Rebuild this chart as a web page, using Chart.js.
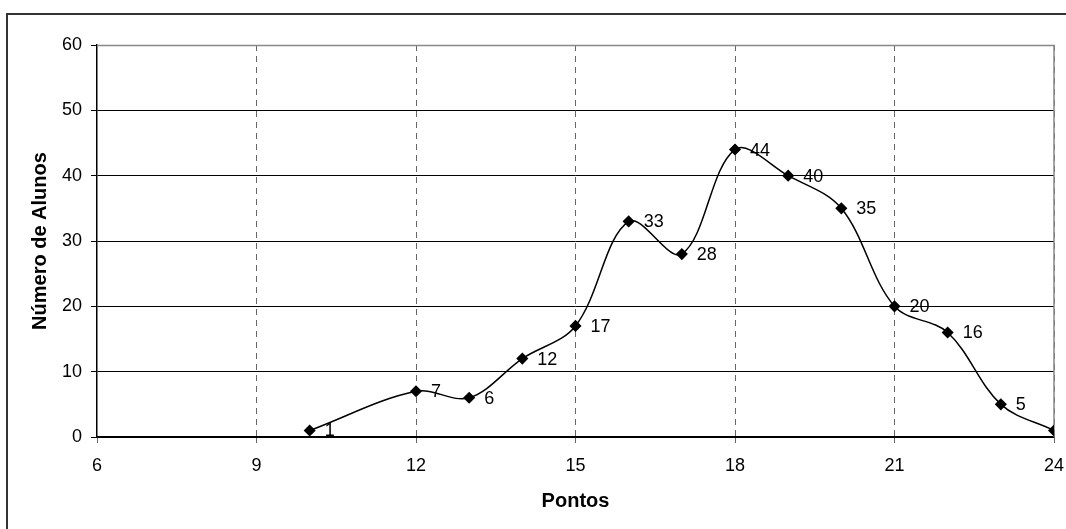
<!DOCTYPE html>
<html>
<head>
<meta charset="utf-8">
<script src="https://cdn.jsdelivr.net/npm/chart.js@4"></script>
<style>
  html, body { margin: 0; padding: 0; background: #fff; overflow: hidden; }
  #wrap { position: relative; width: 1066px; height: 529px; }
  #frame { position: absolute; left: 6px; top: 13px; width: 1100px; height: 600px; border: 2px solid #333; box-sizing: border-box; }
  canvas { position: absolute; left: 0; top: 0; }
</style>
</head>
<body>
<div id="wrap">
  <div id="frame"></div>
  <canvas id="chart" width="1066" height="529"></canvas>
</div>
<script>
// chart data
const pontos = [10, 12, 13, 14, 15, 16, 17, 18, 19, 20, 21, 22, 23, 24];
const alunos = [1, 7, 6, 12, 17, 33, 28, 44, 40, 35, 20, 16, 5, 1];
const xTicks = [6, 9, 12, 15, 18, 21, 24];
const yTicks = [0, 10, 20, 30, 40, 50, 60];

const FONT = "Arial, 'Liberation Sans', sans-serif";

// value labels to the right of each marker
const pointLabels = {
  id: "pointLabels",
  afterDatasetsDraw(chart) {
    const ctx = chart.ctx;
    const meta = chart.getDatasetMeta(0);
    ctx.save();
    ctx.font = "18px " + FONT;
    ctx.fillStyle = "#000";
    ctx.textAlign = "left";
    ctx.textBaseline = "middle";
    meta.data.forEach((pt, i) => {
      ctx.fillText(String(alunos[i]), pt.x + 15, pt.y + 1);
    });
    ctx.restore();
  }
};

// grey plot-area border on top and right
const plotFrame = {
  id: "plotFrame",
  beforeDatasetsDraw(chart) {
    const { ctx, chartArea: a } = chart;
    ctx.save();
    ctx.strokeStyle = "#888";
    ctx.lineWidth = 1.5;
    ctx.beginPath();
    ctx.moveTo(a.left, a.top + 0.5);
    ctx.lineTo(a.right, a.top + 0.5);
    ctx.lineTo(a.right, a.bottom);
    ctx.stroke();
    ctx.restore();
  }
};

new Chart(document.getElementById("chart").getContext("2d"), {
  type: "line",
  data: {
    datasets: [{
      data: pontos.map((p, i) => ({ x: p, y: alunos[i] })),
      borderColor: "#000",
      borderWidth: 1.5,
      tension: 0.35,
      pointStyle: "rectRot",
      pointRadius: 5,
      pointBackgroundColor: "#000",
      pointBorderColor: "#000",
      fill: false
    }]
  },
  options: {
    responsive: false,
    animation: false,
    devicePixelRatio: 1,
    layout: { padding: { left: 28, right: 12, top: 45, bottom: 16 } },
    plugins: { legend: { display: false }, tooltip: { enabled: false } },
    scales: {
      x: {
        type: "linear",
        min: 6,
        max: 24,
        afterBuildTicks: s => { s.ticks = xTicks.map(v => ({ value: v })); },
        afterFit: s => { s.height = 76; s.paddingLeft = 0; s.paddingRight = 0; },
        ticks: { color: "#000", font: { family: FONT, size: 18 }, padding: 12, maxRotation: 0 },
        grid: {
          color: ctx => ctx.tick && ctx.tick.value === 6 ? "rgba(0,0,0,0)" : "#666",
          tickColor: "#666",
          tickLength: 6,
          lineWidth: 1
        },
        border: { color: "#000", width: 1.5, dash: [6, 5] },
        title: { display: true, text: "Pontos", color: "#000", font: { family: FONT, size: 20, weight: "bold" }, padding: { top: 6, bottom: 0 } }
      },
      y: {
        min: 0,
        max: 60,
        afterBuildTicks: s => { s.ticks = yTicks.map(v => ({ value: v })); },
        afterFit: s => { s.width = 69; },
        ticks: { color: "#000", font: { family: FONT, size: 18 }, padding: 9 },
        grid: {
          color: ctx => ctx.tick && ctx.tick.value === 60 ? "rgba(0,0,0,0)" : "#000",
          tickColor: "#000",
          tickLength: 6,
          lineWidth: 1
        },
        border: { color: "#000", width: 1.5 },
        title: { display: true, text: "Número de Alunos", color: "#000", font: { family: FONT, size: 20, weight: "bold" }, padding: { top: 0, bottom: 6 } }
      }
    }
  },
  plugins: [plotFrame, pointLabels]
});
</script>
</body>
</html>
